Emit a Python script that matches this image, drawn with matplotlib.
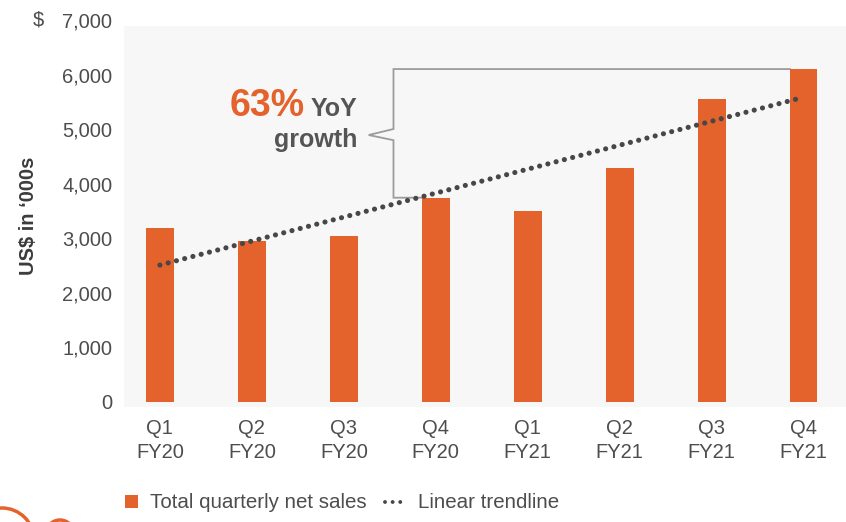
import numpy as np
import matplotlib
matplotlib.use("Agg")
import matplotlib.pyplot as plt
from matplotlib.patches import Rectangle, Circle
from matplotlib.lines import Line2D

plt.rcParams['font.family'] = ['Liberation Sans', 'DejaVu Sans']

# quarterly net sales, US$ '000s
quarters = ["Q1\nFY20", "Q2\nFY20", "Q3\nFY20", "Q4\nFY20",
            "Q1\nFY21", "Q2\nFY21", "Q3\nFY21", "Q4\nFY21"]
sales = [3180, 2950, 3040, 3740, 3500, 4290, 5550, 6100]
yticks = [0, 1000, 2000, 3000, 4000, 5000, 6000, 7000]
legend_labels = ["Total quarterly net sales", "Linear trendline"]

ORANGE = "#E4622B"
TEXT = "#4d4d4d"
DARK = "#474747"

W, H = 846, 522
fig = plt.figure(figsize=(W / 100, H / 100), dpi=100)
fig.patch.set_facecolor("white")
ax = fig.add_axes([124 / W, 115 / H, 1 - 124 / W, 387 / H])
ax.set_facecolor("white")


def px(xp, yp):
    # pixel position from top-left -> figure fraction
    return xp / W, 1 - yp / H


x = np.arange(len(sales))
ax.set_xlim(-0.39, 7.46)
ax.set_ylim(-100, 7000)

# light grey panel behind the bars
ax.add_patch(Rectangle((-0.39, -100), 7.85, 6990, facecolor="#f7f7f7",
                       edgecolor="none", zorder=0))

width = 0.3
ax.bar(x, sales, width=width, color=ORANGE, zorder=2)

# linear trendline fitted to the quarterly values
slope, icpt = np.polyfit(x, sales, 1)
trend = icpt + slope * x
ax.plot(x, trend, color=DARK, lw=3.7, linestyle=(0, (0.01, 1.65)),
        dash_capstyle="round", zorder=3)

# bracket from Q4 FY20 to Q4 FY21
bx = 2.54
top, bot = sales[7], sales[3]
mid = (top + bot) / 2 - 30
bracket_x = [7 - width / 2, bx, bx, bx - 0.27, bx, bx, 3 - width / 2]
bracket_y = [top, top, mid + 110, mid, mid - 95, bot, bot]
ax.plot(bracket_x, bracket_y, color="#9c9c9c", lw=1.3, zorder=1,
        solid_joinstyle="miter")

ax.text(2.15, 5238, "YoY", ha="right", va="baseline", fontsize=18,
        fontweight="bold", color="#555555")
ax.text(1.57, 5238, "63%", ha="right", va="baseline", fontsize=27,
        fontweight="bold", color=ORANGE)
ax.text(2.15, 4670, "growth", ha="right", va="baseline", fontsize=18,
        fontweight="bold", color="#555555")

for s in ax.spines.values():
    s.set_visible(False)

ax.set_yticks(yticks)
ax.set_yticklabels([f"{v:,}" for v in yticks])
ax.set_xticks(x)
ax.set_xticklabels(quarters, linespacing=1.3)
ax.tick_params(axis="both", length=0, labelsize=14.5, labelcolor=TEXT)
ax.tick_params(axis="y", pad=8.5)
ax.tick_params(axis="x", pad=9)

fig.text(*px(38, 20), "$", ha="center", va="center", fontsize=14.5,
         color=TEXT)
fig.text(*px(28, 216), "US$ in \u2018000s", rotation=90, ha="center",
         va="center", fontsize=14.5, color="#3c3c3c", fontweight="bold")

# legend drawn by hand: orange square, three dots
lx, ly = px(125, 508)
fig.add_artist(Rectangle((lx, ly), 13 / W, 13 / H, transform=fig.transFigure,
                         facecolor=ORANGE, edgecolor="none"))
fig.text(*px(150, 502), legend_labels[0], ha="left", va="center",
         fontsize=14.8, color=TEXT)
d0, dy = px(385, 502)
d1, _ = px(401, 502)
fig.add_artist(Line2D([d0, d1], [dy, dy], transform=fig.transFigure,
                      color=DARK, lw=2.8, linestyle=(0, (0.01, 1.95)),
                      dash_capstyle="round"))
fig.text(*px(418, 502), legend_labels[1], ha="left", va="center",
         fontsize=14.8, color=TEXT)

# decorative rings in the bottom-left corner
fig.add_artist(Circle((0.02, -0.18), 0.32, transform=fig.dpi_scale_trans,
                      fill=False, edgecolor=ORANGE, lw=2.5))
fig.add_artist(Circle((0.6, -0.12), 0.14, transform=fig.dpi_scale_trans,
                      fill=False, edgecolor=ORANGE, lw=2.5))

fig.savefig("out.png", dpi=100)
